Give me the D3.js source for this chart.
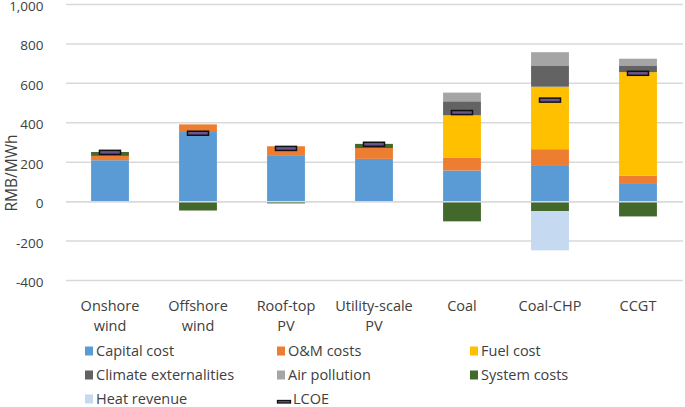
<!DOCTYPE html>
<html><head><meta charset="utf-8">
<script src="https://cdn.jsdelivr.net/npm/d3@7"></script>
<style>body{margin:0;background:#fff}svg{display:block}text{font-family:"Open Sans",Lato,sans-serif;fill:#404040}</style>
</head><body><svg id="c" width="685" height="407"></svg>
<script>
const categories = ["Onshore wind","Offshore wind","Roof-top PV","Utility-scale PV","Coal","Coal-CHP","CCGT"];
const categoryLines = [["Onshore","wind"],["Offshore","wind"],["Roof-top","PV"],["Utility-scale","PV"],["Coal"],["Coal-CHP"],["CCGT"]];
const capital = [210, 353, 232, 217, 158, 181, 94];
const om      = [22, 39, 49, 55, 66, 85, 37];
const fuel    = [0, 0, 0, 0, 214, 317, 526];
const climate = [0, 0, 0, 0, 71, 108, 34];
const air     = [0, 0, 0, 0, 44, 67, 34];
const system  = [20, -45, -9, 21, -100, -48, -75];
const heat    = [0, 0, 0, 0, 0, -199, 0];
const lcoe    = [250, 347, 270, 291, 452, 515, 651];
const yTicks  = [-400, -200, 0, 200, 400, 600, 800, 1000];
const seriesNames = ["Capital cost","O&M costs","Fuel cost","Climate externalities","Air pollution","System costs","Heat revenue"];
const seriesColors = ["#5b9bd5","#ed7d31","#ffc000","#636363","#a5a5a5","#43682b","#c5d9f1"];
const seriesValues = [capital, om, fuel, climate, air, system, heat];

const FS = "14.5px";
const svg = d3.select("#c");
const y = d3.scaleLinear().domain([-400, 1000]).range([280.5, 4.5]);
const x = d3.scaleBand().domain(categories).range([66, 682]).paddingInner(0.57).paddingOuter(0.285);

// gridlines
svg.append("g").selectAll("line").data(yTicks).join("line")
  .attr("x1", 66).attr("x2", 683).attr("y1", d => y(d)).attr("y2", d => y(d))
  .attr("stroke", "#d9d9d9").attr("stroke-width", 1.5);

// tick labels
const fmt = d3.format(",");
svg.append("g").selectAll("text").data(yTicks).join("text")
  .attr("x", 43.5).attr("y", d => y(d) + 6.5).attr("text-anchor", "end")
  .style("font-size", "13.5px").text(d => fmt(d).replace("\u2212", "-"));

// y label
svg.append("text").attr("transform", "translate(17,173) rotate(-90)")
  .attr("text-anchor", "middle").style("font-size", "15.5px").text("RMB/MWh");

// stacked bars
const segs = [];
categories.forEach((c, i) => {
  let pos = 0, neg = 0;
  seriesValues.forEach((arr, s) => {
    const v = arr[i];
    if (v > 0) { segs.push({c, s, y0: pos, y1: pos + v}); pos += v; }
    else if (v < 0) { segs.push({c, s, y0: neg + v, y1: neg}); neg += v; }
  });
});
svg.append("g").selectAll("rect").data(segs).join("rect")
  .attr("x", d => x(d.c)).attr("width", x.bandwidth())
  .attr("y", d => y(d.y1)).attr("height", d => y(d.y0) - y(d.y1))
  .attr("fill", d => seriesColors[d.s]);

// zero line on top
svg.append("line").attr("x1", 66).attr("x2", 683).attr("y1", y(0)).attr("y2", y(0))
  .attr("stroke", "#d9d9d9").attr("stroke-width", 1.5);

// LCOE markers
svg.append("g").selectAll("rect").data(categories).join("rect")
  .attr("x", d => x(d) + x.bandwidth() / 2 - 10.5).attr("width", 21)
  .attr("y", (d, i) => y(lcoe[i]) - 2).attr("height", 4)
  .attr("fill", "#6a5590").attr("stroke", "#111").attr("stroke-width", 1.5);

// category labels
const cl = svg.append("g").selectAll("text").data(categories).join("text")
  .attr("text-anchor", "middle").style("font-size", FS);
cl.each(function(d, i) {
  const t = d3.select(this);
  categoryLines[i].forEach((ln, k) => {
    t.append("tspan").attr("x", x(d) + x.bandwidth() / 2).attr("y", 311 + k * 20).text(ln);
  });
});

// legend
const legendItems = seriesNames.map((n, i) => ({name: n, color: seriesColors[i], type: "box"}));
legendItems.push({name: "LCOE", type: "lcoe"});
const colX = [85, 277, 470];
const rowY = [351, 375, 399];
const lg = svg.append("g").selectAll("g").data(legendItems).join("g")
  .attr("transform", (d, i) => `translate(${colX[i % 3]},${rowY[Math.floor(i / 3)]})`);
lg.each(function(d) {
  const g = d3.select(this);
  if (d.type === "box") {
    g.append("rect").attr("x", 0).attr("y", -4.5).attr("width", 8).attr("height", 9).attr("fill", d.color);
    g.append("text").attr("x", 11).attr("y", 5).style("font-size", FS).text(d.name);
  } else {
    g.append("rect").attr("x", 0.5).attr("y", 1.5).attr("width", 13).attr("height", 2.5)
      .attr("fill", "#6a5590").attr("stroke", "#111").attr("stroke-width", 1.3);
    g.append("text").attr("x", 16).attr("y", 5).style("font-size", FS).text(d.name);
  }
});
</script></body></html>
